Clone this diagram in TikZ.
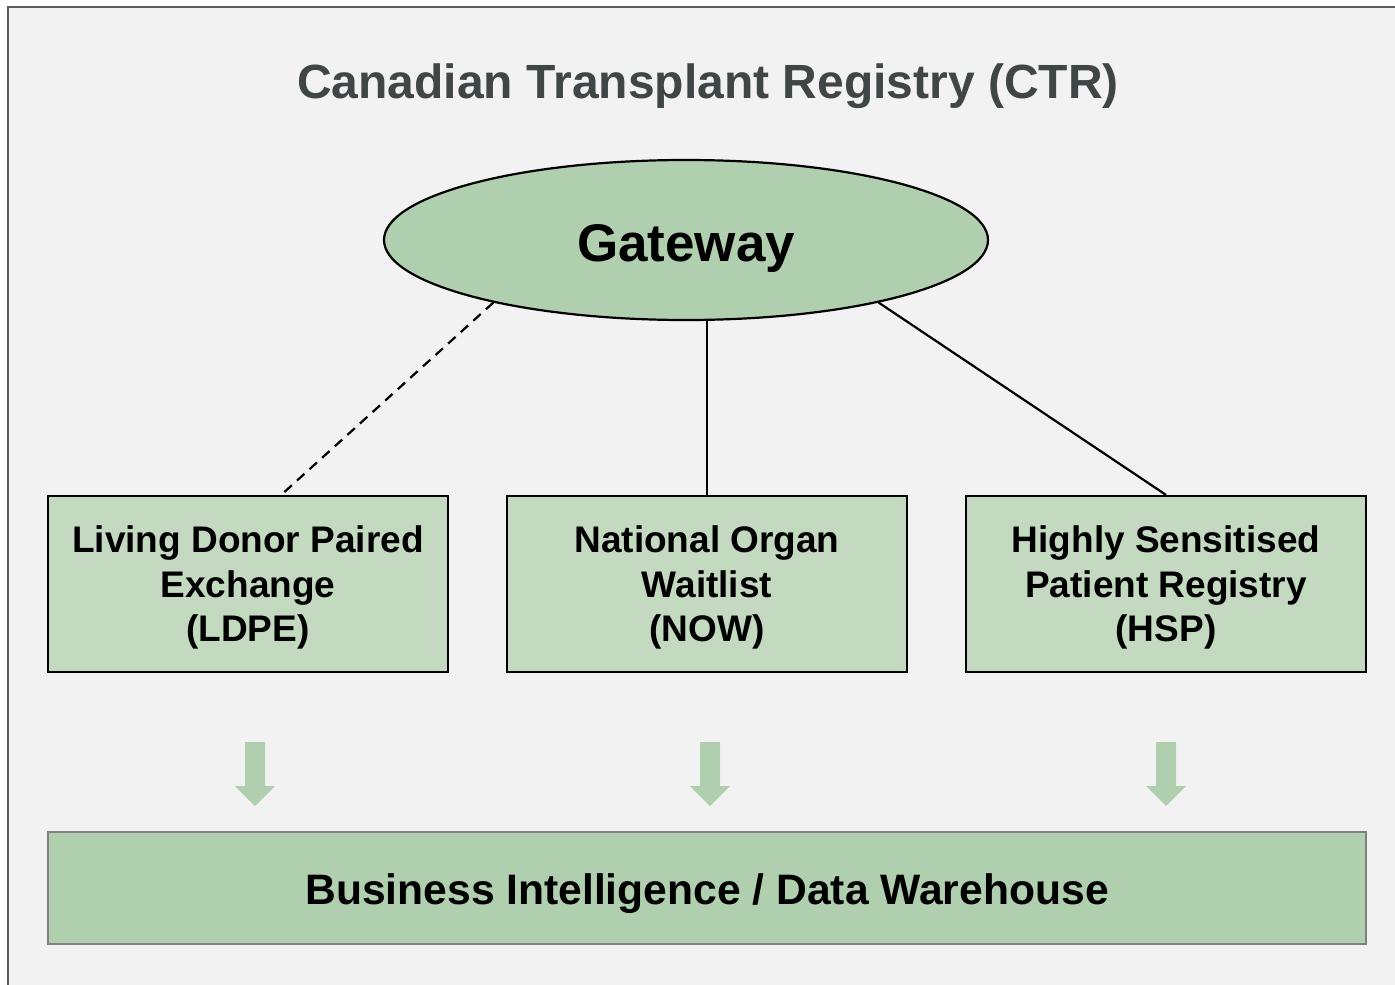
\documentclass[tikz,border=0pt]{standalone}
\usepackage{fontspec}
\setmainfont{Liberation Sans}
\usetikzlibrary{calc,shapes.geometric}
\definecolor{bgc}{HTML}{F2F2F2}
\definecolor{framec}{HTML}{595959}
\definecolor{titlec}{HTML}{404545}
\definecolor{boxfill}{HTML}{C3D9C0}
\definecolor{darkfill}{HTML}{B0CFAE}
\definecolor{bibord}{HTML}{808080}
\tikzset{
  regbox/.style={draw=black, line width=2.2pt, fill=boxfill, rectangle,
    minimum width=400pt, minimum height=176pt, inner sep=0pt, align=center,
    text depth=0pt, font=\bfseries\fontsize{37}{44.5}\selectfont},
  link/.style={draw=black, line width=2.2pt},
  dashlink/.style={link, dash pattern=on 10pt off 7pt},
  darrow/.pic={\fill[darkfill] (-10,0) -- (10,0) -- (10,44) -- (20,44) -- (0,64) -- (-20,44) -- (-10,44) -- cycle;}
}
\begin{document}
\begin{tikzpicture}[x=1pt,y=-1pt]
\useasboundingbox (0,0) rectangle (1395,985);
\clip (0,0) rectangle (1395,985);
\fill[white] (0,0) rectangle (1395,985);
\draw[framec, line width=2pt, fill=bgc] (8,7) rectangle (1420,1010);
\node[anchor=base, text=titlec, font=\bfseries\fontsize{48}{56}\selectfont] (title) at (708,98) {Canadian Transplant Registry (CTR)};
\node[ellipse, draw=black, line width=2.2pt, fill=darkfill, minimum width=604pt, minimum height=160pt, inner sep=0pt, text height=42pt, text depth=0pt, font=\bfseries\fontsize{53}{60}\selectfont] (gw) at (686,240) {Gateway};
\node[regbox] (ldpe) at (248,584) {Living Donor Paired\\Exchange\\(LDPE)};
\node[regbox] (now) at (707,584) {National Organ\\Waitlist\\(NOW)};
\node[regbox] (hsp) at (1166,584) {Highly Sensitised\\Patient Registry\\(HSP)};
\node[rectangle, draw=bibord, line width=2.5pt, fill=darkfill, minimum width=1318pt, minimum height=112pt, inner sep=0pt, text height=32pt, text depth=0pt, font=\bfseries\fontsize{42.6}{50}\selectfont] (bi) at (707,888) {Business Intelligence / Data Warehouse};
\coordinate (ldpetop) at ($(ldpe.north west)!0.5825!(ldpe.north east)$);
\draw[dashlink] (gw.198) -- (ldpetop);
\draw[link] (now.north) -- (now.north |- gw.south);
\draw[link] (gw.342) -- (hsp.north);
\pic at (255,742) {darrow};
\pic at (710,742) {darrow};
\pic at (1166,742) {darrow};
\end{tikzpicture}
\end{document}
